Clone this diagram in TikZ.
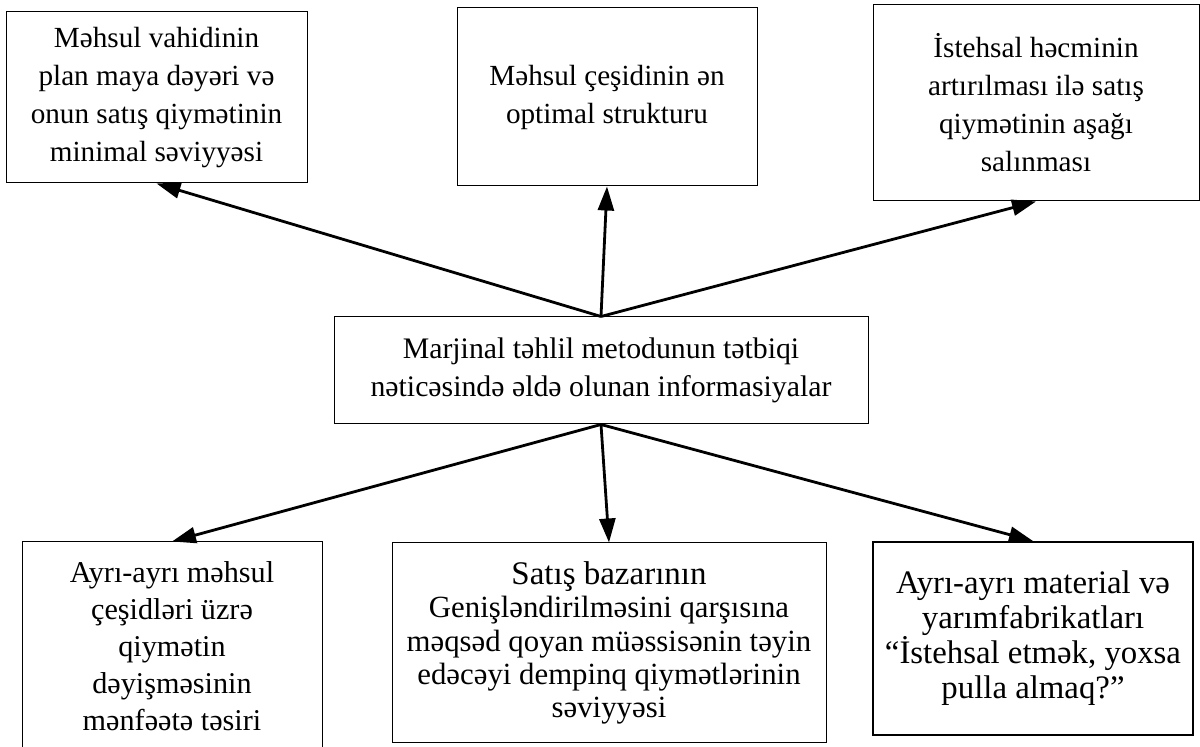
\documentclass[tikz,border=0pt]{standalone}
\usepackage{fontspec}
\setmainfont{Liberation Serif}
\usetikzlibrary{arrows.meta}

\tikzset{
  infobox/.style={draw, line width=0.5pt, align=center, inner sep=0pt,
    font=\fontsize{14.6}{19}\selectfont},
  infoarrow/.style={-{Triangle[length=12pt,width=8pt]}, line width=1.4pt},
}

\begin{document}
\begin{tikzpicture}[x=0.5pt,y=-0.5pt]
    \useasboundingbox (0,0) rectangle (1200,747);

    % top row
    \node[infobox, minimum width=150.5pt, minimum height=85.5pt] (plan) at (156.5,97.5)
        {Məhsul vahidinin\\plan maya dəyəri və\\onun satış qiymətinin\\minimal səviyyəsi};
    \node[infobox, minimum width=150pt, minimum height=89pt] (struktur) at (607,97)
        {Məhsul çeşidinin ən\\optimal strukturu};
    \node[infobox, minimum width=163pt, minimum height=98pt] (hecm) at (1036,103)
        {İstehsal həcminin\\artırılması ilə satış\\qiymətinin aşağı\\salınması};

    % centre
    \node[infobox, minimum width=267pt, minimum height=53.5pt,
          font=\fontsize{14.9}{19}\selectfont] (info) at (601,370.5)
        {Marjinal təhlil metodunun tətbiqi\\nəticəsində əldə olunan informasiyalar};

    % bottom row
    \node[infobox, minimum width=150pt, minimum height=104pt,
          font=\fontsize{15.1}{18.5}\selectfont] (menfeet) at (172,646)
        {Ayrı-ayrı məhsul\\çeşidləri üzrə\\qiymətin\\dəyişməsinin\\mənfəətə təsiri};
    \node[infobox, minimum width=217pt, minimum height=100pt,
          font=\fontsize{15.4}{16.6}\selectfont] (demping) at (609,643)
        {{\fontsize{16.5}{17.5}\selectfont Satış bazarının}\\Genişləndirilməsini qarşısına\\məqsəd qoyan müəssisənin təyin\\edəcəyi dempinq qiymətlərinin\\səviyyəsi};
    \node[infobox, line width=1pt, minimum width=160pt, minimum height=96.5pt,
          font=\fontsize{16.4}{17.5}\selectfont] (material) at (1033,638.5)
        {Ayrı-ayrı material və\\yarımfabrikatları\\“İstehsal etmək, yoxsa\\pulla almaq?”};

    \draw[infoarrow] (info.north) -- (plan.south);
    \draw[infoarrow] (info.north) -- (struktur.south);
    \draw[infoarrow] (info.north) -- (hecm.south);

    \draw[infoarrow] (info.south) -- (menfeet.north);
    \draw[infoarrow] (info.south) -- (demping.north);
    \draw[infoarrow] (info.south) -- (material.north);
\end{tikzpicture}
\end{document}
